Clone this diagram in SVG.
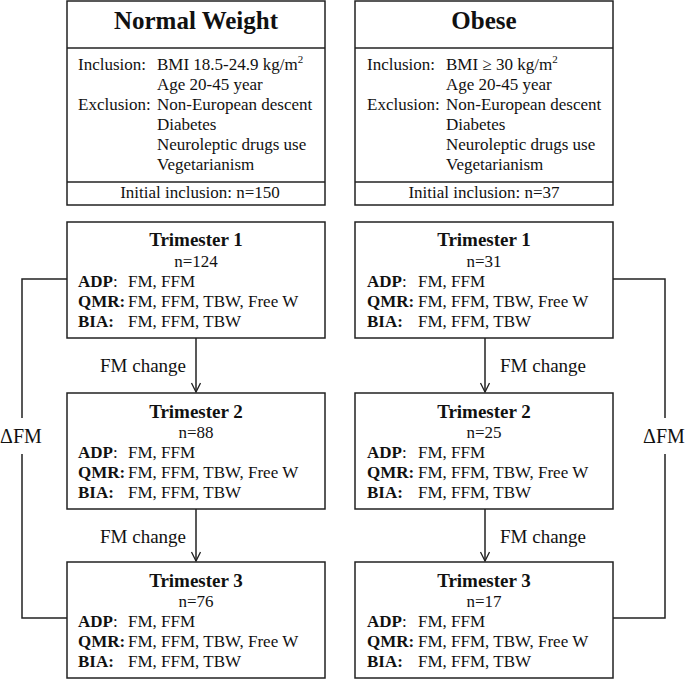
<svg xmlns="http://www.w3.org/2000/svg" width="685" height="679" viewBox="0 0 685 679">
<defs>
<marker id="arr" markerWidth="12" markerHeight="12" refX="10" refY="5" orient="auto" markerUnits="userSpaceOnUse">
<polyline points="1,0.5 10,5 1,9.5" fill="none" stroke="#222" stroke-width="1.3"/>
</marker>
<style>
.box{fill:#fff;stroke:#222;stroke-width:1.5}
.ln{fill:none;stroke:#222;stroke-width:1.5}
text{font-family:"Liberation Serif","Times New Roman",serif;fill:#111}
.h{font-size:25px;font-weight:bold;text-anchor:middle}
.t{font-size:19px;font-weight:bold;text-anchor:middle}
.b{font-size:17px}
.c{font-size:17px;text-anchor:middle}
.lab{font-size:19px}
.d{font-size:20px;text-anchor:middle}
.bd{font-weight:bold}
.sup{font-size:11px}
</style>
</defs>
<rect width="685" height="679" fill="#fff"/>
<g id="connectors">
<line class="ln" x1="196" y1="338" x2="196" y2="392" marker-end="url(#arr)"/>
<line class="ln" x1="196" y1="509" x2="196" y2="561" marker-end="url(#arr)"/>
<line class="ln" x1="485" y1="338" x2="485" y2="392" marker-end="url(#arr)"/>
<line class="ln" x1="485" y1="509" x2="485" y2="561" marker-end="url(#arr)"/>
<polyline class="ln" points="67,279 22,279 22,418"/>
<polyline class="ln" points="22,454 22,618 67,618"/>
<polyline class="ln" points="613,279 665,279 665,418"/>
<polyline class="ln" points="665,454 665,618 613,618"/>
<text class="lab" x="186" y="372" text-anchor="end">FM change</text>
<text class="lab" x="186" y="543" text-anchor="end">FM change</text>
<text class="lab" x="500" y="372">FM change</text>
<text class="lab" x="500" y="543">FM change</text>
<text class="d" x="21" y="443">ΔFM</text>
<text class="d" x="664" y="443">ΔFM</text>
</g>
<g id="normal">
<rect class="box" x="67" y="1" width="258" height="204"/>
<line class="ln" x1="67" y1="48" x2="325" y2="48"/>
<line class="ln" x1="67" y1="182" x2="325" y2="182"/>
<text class="h" x="196" y="29">Normal Weight</text>
<text class="b" x="78" y="70">Inclusion:</text>
<text class="b" x="157" y="70">BMI 18.5-24.9 kg/m<tspan class="sup" dy="-7">2</tspan></text>
<text class="b" x="157" y="90">Age 20-45 year</text>
<text class="b" x="78" y="110">Exclusion:</text>
<text class="b" x="157" y="110">Non-European descent</text>
<text class="b" x="157" y="130">Diabetes</text>
<text class="b" x="157" y="150">Neuroleptic drugs use</text>
<text class="b" x="157" y="170">Vegetarianism</text>
<text class="c" x="200" y="198">Initial inclusion: n=150</text>
</g>
<g id="obese">
<rect class="box" x="355" y="1" width="258" height="204"/>
<line class="ln" x1="355" y1="48" x2="613" y2="48"/>
<line class="ln" x1="355" y1="182" x2="613" y2="182"/>
<text class="h" x="484" y="29">Obese</text>
<text class="b" x="367" y="70">Inclusion:</text>
<text class="b" x="446" y="70">BMI ≥ 30 kg/m<tspan class="sup" dy="-7">2</tspan></text>
<text class="b" x="446" y="90">Age 20-45 year</text>
<text class="b" x="367" y="110">Exclusion:</text>
<text class="b" x="446" y="110">Non-European descent</text>
<text class="b" x="446" y="130">Diabetes</text>
<text class="b" x="446" y="150">Neuroleptic drugs use</text>
<text class="b" x="446" y="170">Vegetarianism</text>
<text class="c" x="484" y="198">Initial inclusion: n=37</text>
</g>
<g id="nw-t1">
<rect class="box" x="67" y="222" width="258" height="116"/>
<text class="t" x="196" y="246">Trimester 1</text>
<text class="c" x="196" y="267">n=124</text>
<text class="b" x="78" y="287"><tspan class="bd">ADP</tspan>:</text><text class="b" x="128" y="287">FM, FFM</text>
<text class="b" x="78" y="307"><tspan class="bd">QMR:</tspan></text><text class="b" x="128" y="307">FM, FFM, TBW, Free W</text>
<text class="b" x="78" y="327"><tspan class="bd">BIA:</tspan></text><text class="b" x="128" y="327">FM, FFM, TBW</text>
</g>
<g id="nw-t2">
<rect class="box" x="67" y="393" width="258" height="116"/>
<text class="t" x="196" y="418">Trimester 2</text>
<text class="c" x="196" y="438">n=88</text>
<text class="b" x="78" y="458"><tspan class="bd">ADP</tspan>:</text><text class="b" x="128" y="458">FM, FFM</text>
<text class="b" x="78" y="478"><tspan class="bd">QMR:</tspan></text><text class="b" x="128" y="478">FM, FFM, TBW, Free W</text>
<text class="b" x="78" y="498"><tspan class="bd">BIA:</tspan></text><text class="b" x="128" y="498">FM, FFM, TBW</text>
</g>
<g id="nw-t3">
<rect class="box" x="67" y="562" width="258" height="116"/>
<text class="t" x="196" y="587">Trimester 3</text>
<text class="c" x="196" y="607">n=76</text>
<text class="b" x="78" y="627"><tspan class="bd">ADP</tspan>:</text><text class="b" x="128" y="627">FM, FFM</text>
<text class="b" x="78" y="647"><tspan class="bd">QMR:</tspan></text><text class="b" x="128" y="647">FM, FFM, TBW, Free W</text>
<text class="b" x="78" y="667"><tspan class="bd">BIA:</tspan></text><text class="b" x="128" y="667">FM, FFM, TBW</text>
</g>
<g id="ob-t1">
<rect class="box" x="355" y="222" width="258" height="116"/>
<text class="t" x="484" y="246">Trimester 1</text>
<text class="c" x="484" y="267">n=31</text>
<text class="b" x="367" y="287"><tspan class="bd">ADP</tspan>:</text><text class="b" x="418" y="287">FM, FFM</text>
<text class="b" x="367" y="307"><tspan class="bd">QMR:</tspan></text><text class="b" x="418" y="307">FM, FFM, TBW, Free W</text>
<text class="b" x="367" y="327"><tspan class="bd">BIA:</tspan></text><text class="b" x="418" y="327">FM, FFM, TBW</text>
</g>
<g id="ob-t2">
<rect class="box" x="355" y="393" width="258" height="116"/>
<text class="t" x="484" y="418">Trimester 2</text>
<text class="c" x="484" y="438">n=25</text>
<text class="b" x="367" y="458"><tspan class="bd">ADP</tspan>:</text><text class="b" x="418" y="458">FM, FFM</text>
<text class="b" x="367" y="478"><tspan class="bd">QMR:</tspan></text><text class="b" x="418" y="478">FM, FFM, TBW, Free W</text>
<text class="b" x="367" y="498"><tspan class="bd">BIA:</tspan></text><text class="b" x="418" y="498">FM, FFM, TBW</text>
</g>
<g id="ob-t3">
<rect class="box" x="355" y="562" width="258" height="116"/>
<text class="t" x="484" y="587">Trimester 3</text>
<text class="c" x="484" y="607">n=17</text>
<text class="b" x="367" y="627"><tspan class="bd">ADP</tspan>:</text><text class="b" x="418" y="627">FM, FFM</text>
<text class="b" x="367" y="647"><tspan class="bd">QMR:</tspan></text><text class="b" x="418" y="647">FM, FFM, TBW, Free W</text>
<text class="b" x="367" y="667"><tspan class="bd">BIA:</tspan></text><text class="b" x="418" y="667">FM, FFM, TBW</text>
</g>
</svg>
